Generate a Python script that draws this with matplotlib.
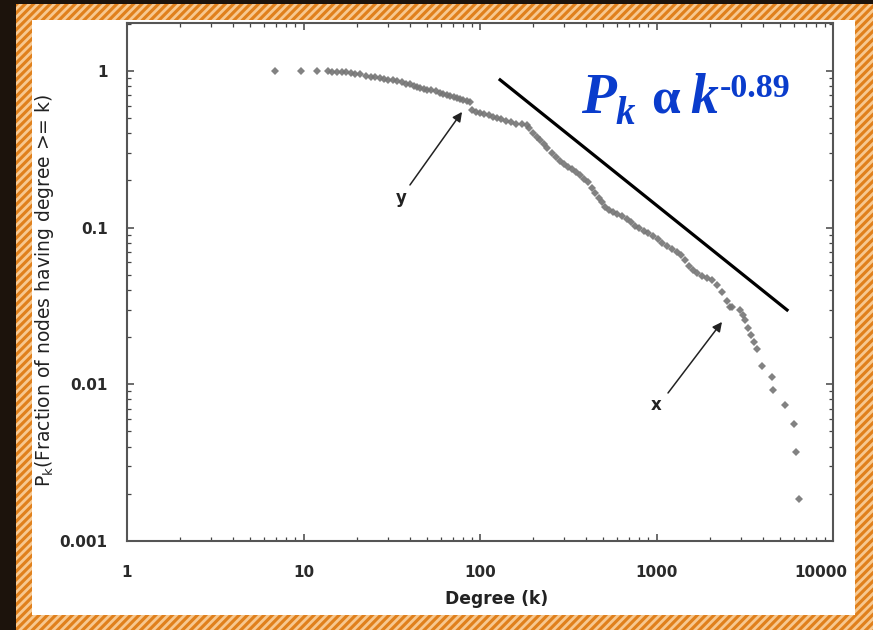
import matplotlib
matplotlib.use("Agg")
import matplotlib.pyplot as plt
import matplotlib.transforms as mtransforms
from matplotlib.patches import Rectangle
from matplotlib.ticker import FixedLocator, LogLocator, NullFormatter

# cumulative degree distribution
degree = [6.9, 9.7, 11.9,
          13.7, 14.5, 15.5, 16.5, 17.5, 18.5, 19.5, 21, 22.5, 24, 25.5, 27, 28.5,
          30, 32, 34, 36, 38, 40, 42, 44, 46, 48, 50, 53, 56, 59, 62, 65, 68,
          71, 74, 77, 80, 84, 88,
          90, 95, 100, 106, 112, 118, 125, 132, 140, 150, 160, 172, 185,
          190, 200, 210, 220, 230, 240, 255, 270, 285, 300, 315, 330, 350, 370,
          390, 410, 430, 450, 470, 490, 510, 540, 570, 600, 640, 680, 720, 760,
          800, 850, 900, 960, 1020, 1080, 1150, 1220, 1300, 1380, 1450, 1520,
          1600, 1700, 1800, 1930, 2050, 2200, 2350, 2500, 2620, 2670,
          2970, 3080, 3170, 3310, 3420, 3570, 3700, 3950, 4490, 4550, 5350,
          6010, 6170, 6420]
frac = [1.0, 1.0, 1.0,
        1.0, 0.99, 0.99, 0.98, 0.98, 0.97, 0.96, 0.95, 0.93, 0.92, 0.91, 0.90, 0.89,
        0.88, 0.87, 0.86, 0.85, 0.83, 0.82, 0.80, 0.79, 0.78, 0.77, 0.76, 0.75, 0.74,
        0.72, 0.71, 0.70, 0.69, 0.68, 0.67, 0.66, 0.65, 0.64, 0.63,
        0.56, 0.55, 0.54, 0.53, 0.52, 0.51, 0.50, 0.49, 0.48, 0.47, 0.46, 0.455, 0.45,
        0.43, 0.40, 0.38, 0.36, 0.34, 0.32, 0.30, 0.28, 0.265, 0.255, 0.245, 0.235,
        0.225, 0.215, 0.205, 0.195, 0.18, 0.165, 0.155, 0.145, 0.136, 0.130, 0.125,
        0.122, 0.118, 0.113, 0.108, 0.103, 0.099, 0.095, 0.092, 0.089, 0.085, 0.080,
        0.076, 0.073, 0.070, 0.067, 0.062, 0.057, 0.054, 0.051, 0.049, 0.048, 0.046,
        0.043, 0.039, 0.034, 0.031, 0.0313,
        0.0298, 0.0277, 0.0258, 0.0228, 0.0207, 0.0187, 0.0167, 0.013, 0.0111,
        0.0092, 0.0074, 0.0056, 0.0037, 0.00185]

# power law guide line, P_k ~ k^-0.89
fit_k = [130, 5490]
fit_p = [0.876, 0.0298]

# annotations: (tail, head, label position)
y_arrow = [(40.1, 0.187), (79.1, 0.547), (35.7, 0.155)]
x_arrow = [(1162, 0.0088), (2350, 0.025), (993, 0.0074)]

xticks = [1, 10, 100, 1000, 10000]
xtick_labels = ["1", "10", "100", "1000", "10000"]
yticks = [0.001, 0.01, 0.1, 1]
ytick_labels = ["0.001", "0.01", "0.1", "1"]

W, H = 873, 630
fig = plt.figure(figsize=(W / 100, H / 100), dpi=100)
fig.patch.set_facecolor("#1c130c")
plt.rcParams["font.family"] = ["DejaVu Sans"]
plt.rcParams["hatch.linewidth"] = 2.0

# orange striped frame and white card (behind the axes)
fig.patches.append(Rectangle((16 / W, 0), 857 / W, 626 / H, transform=fig.transFigure,
                             facecolor="#e0801c", edgecolor="#f7c890", hatch="////",
                             linewidth=0, zorder=-3))
fig.patches.append(Rectangle((32 / W, 15 / H), 823 / W, 595 / H, transform=fig.transFigure,
                             facecolor="white", edgecolor="none", zorder=-2))

ax = fig.add_axes([127 / W, 89 / H, 706 / W, 518 / H])
ax.set_facecolor("white")
ax.set_xscale("log")
ax.set_yscale("log")
ax.set_xlim(1, 10000)
ax.set_ylim(0.001, 2.02)

ax.plot(degree, frac, linestyle="none", marker="D", markersize=3.8,
        color="#757575", markeredgewidth=0, alpha=0.9)
ax.plot(fit_k, fit_p, color="black", lw=2.3)

for tail, head, lab in [y_arrow, x_arrow]:
    ax.annotate("", xy=head, xytext=tail,
                arrowprops=dict(arrowstyle="-|>", color="#222", lw=1.1,
                                mutation_scale=14, shrinkA=0, shrinkB=0))
ax.text(*y_arrow[2], "y", ha="center", va="center", fontsize=12, fontweight="bold", color="#222")
ax.text(*x_arrow[2], "x", ha="center", va="center", fontsize=12, fontweight="bold", color="#222")

ax.xaxis.set_major_locator(FixedLocator(xticks))
ax.set_xticklabels(xtick_labels)
ax.yaxis.set_major_locator(FixedLocator(yticks))
ax.set_yticklabels(ytick_labels)
ax.xaxis.set_minor_locator(LogLocator(base=10, subs=range(2, 10)))
ax.yaxis.set_minor_locator(LogLocator(base=10, subs=range(2, 10)))
ax.xaxis.set_minor_formatter(NullFormatter())
ax.yaxis.set_minor_formatter(NullFormatter())
ax.tick_params(which="both", direction="in", top=True, right=True, color="#444")
ax.tick_params(which="major", length=5, width=1.1)
ax.tick_params(which="minor", length=3, width=0.9)
ax.tick_params(axis="x", pad=17, labelsize=11, labelcolor="#2a2a2a")
ax.tick_params(axis="y", pad=14, labelsize=11, labelcolor="#2a2a2a")
for lab in ax.get_xticklabels() + ax.get_yticklabels():
    lab.set_fontweight("bold")
# the last x label sits a little left of its tick in the reference
last = ax.xaxis.get_major_ticks()[-1].label1
last.set_transform(last.get_transform()
                   + mtransforms.ScaledTranslation(-0.12, 0, fig.dpi_scale_trans))
for sp in ax.spines.values():
    sp.set_color("#555")
    sp.set_linewidth(1.5)

ax.set_xlabel("Degree (k)", fontsize=12.3, fontweight="bold", color="#222")
ax.xaxis.set_label_coords((497 - 127) / 706, -(590 - 541) / 518)
ax.set_ylabel(r"P$_\mathregular{k}$(Fraction of nodes having degree >= k)",
              fontsize=13.5, color="#222")
ax.yaxis.set_label_coords(-(127 - 56) / 706, (541 - 290) / 518)

# the formula, set piece by piece in pixel positions
blue = "#0a3ccc"
serif = ["Liberation Serif", "DejaVu Serif"]
def ftext(x, y, s, size, style):
    fig.text(x / W, 1 - y / H, s, fontsize=size, color=blue, family=serif,
             fontweight="bold", fontstyle=style, ha="left", va="baseline", zorder=5)
ftext(581, 113, "P", 41, "italic")
ftext(615, 124, "k", 28, "italic")
ftext(651, 113, "\u03b1", 37, "normal")
ftext(690, 113, "k", 40, "italic")
ftext(720, 97, "-0.89", 24.5, "normal")

fig.savefig("out.png", dpi=100, facecolor=fig.get_facecolor())
